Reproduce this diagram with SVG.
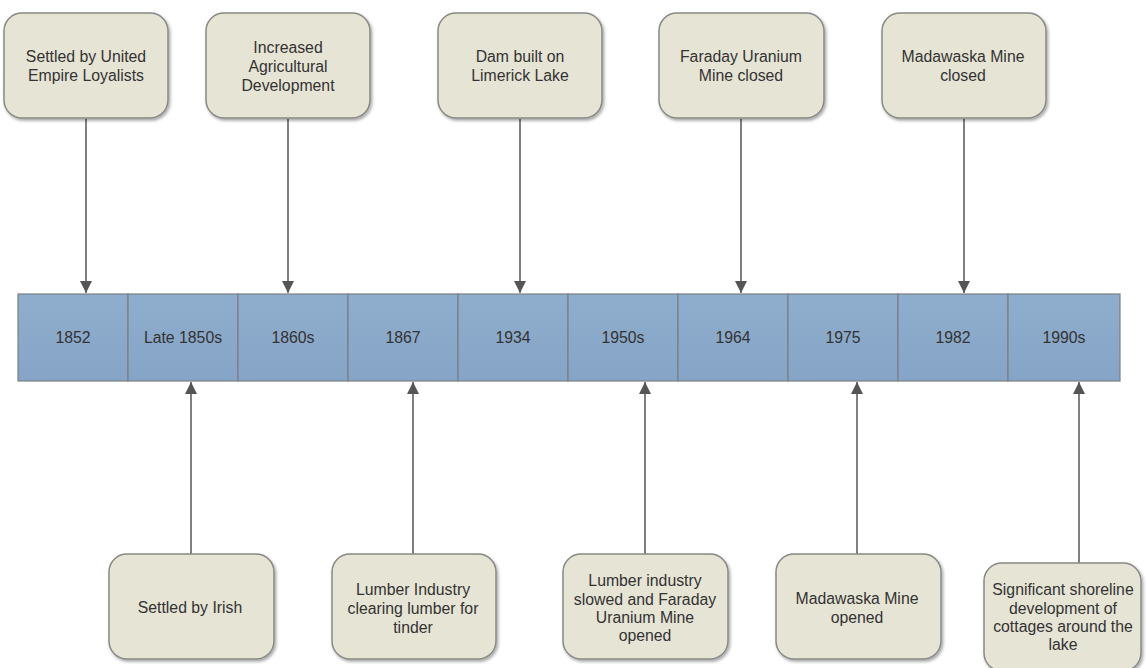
<svg xmlns="http://www.w3.org/2000/svg" width="1147" height="668" viewBox="0 0 1147 668">
<defs>
<filter id="sh" x="-10%" y="-10%" width="125%" height="125%">
<feDropShadow dx="1.5" dy="2" stdDeviation="1.5" flood-color="#000" flood-opacity="0.35"/>
</filter>
<linearGradient id="cg" x1="0" y1="0" x2="0" y2="1">
<stop offset="0" stop-color="#8fadcc"/>
<stop offset="1" stop-color="#86a4c6"/>
</linearGradient>
<marker id="ah" viewBox="0 0 12 12" refX="12" refY="6" markerWidth="12" markerHeight="12" markerUnits="userSpaceOnUse" orient="auto">
<path d="M0,0 L12,6 L0,12 Z" fill="#555"/>
</marker>
<style>
.box{fill:#e6e4d4;stroke:#888a84;stroke-width:1.5;filter:url(#sh)}
.cell{fill:url(#cg);stroke:#7a7f86;stroke-width:1.2}
.t{font-family:"Liberation Sans",Arial,sans-serif;font-size:15.8px;fill:#333;text-anchor:middle}
.c{stroke:#555;stroke-width:1.5;fill:none;marker-end:url(#ah)}
</style>
</defs>
<rect width="1147" height="668" fill="#fff"/>

<g id="timeline">
<rect class="cell" x="18" y="294" width="110" height="87"/>
<rect class="cell" x="128" y="294" width="110" height="87"/>
<rect class="cell" x="238" y="294" width="110" height="87"/>
<rect class="cell" x="348" y="294" width="110" height="87"/>
<rect class="cell" x="458" y="294" width="110" height="87"/>
<rect class="cell" x="568" y="294" width="110" height="87"/>
<rect class="cell" x="678" y="294" width="110" height="87"/>
<rect class="cell" x="788" y="294" width="110" height="87"/>
<rect class="cell" x="898" y="294" width="110" height="87"/>
<rect class="cell" x="1008" y="294" width="112" height="87"/>
<text class="t" x="73" y="343">1852</text>
<text class="t" x="183" y="343">Late 1850s</text>
<text class="t" x="293" y="343">1860s</text>
<text class="t" x="403" y="343">1867</text>
<text class="t" x="513" y="343">1934</text>
<text class="t" x="623" y="343">1950s</text>
<text class="t" x="733" y="343">1964</text>
<text class="t" x="843" y="343">1975</text>
<text class="t" x="953" y="343">1982</text>
<text class="t" x="1064" y="343">1990s</text>
</g>

<g id="connectors">
<line class="c" x1="86" y1="119" x2="86" y2="293"/>
<line class="c" x1="288" y1="119" x2="288" y2="293"/>
<line class="c" x1="520" y1="119" x2="520" y2="293"/>
<line class="c" x1="741" y1="119" x2="741" y2="293"/>
<line class="c" x1="964" y1="119" x2="964" y2="293"/>
<line class="c" x1="191" y1="554" x2="191" y2="382"/>
<line class="c" x1="413" y1="554" x2="413" y2="382"/>
<line class="c" x1="645" y1="554" x2="645" y2="382"/>
<line class="c" x1="857" y1="554" x2="857" y2="382"/>
<line class="c" x1="1079" y1="563" x2="1079" y2="382"/>
</g>

<g id="n1"><rect class="box" x="4" y="13" width="164" height="105" rx="18"/>
<text class="t" x="86" y="62">Settled by United</text><text class="t" x="86" y="81">Empire Loyalists</text></g>
<g id="n2"><rect class="box" x="206" y="13" width="164" height="105" rx="18"/>
<text class="t" x="288" y="53">Increased</text><text class="t" x="288" y="72">Agricultural</text><text class="t" x="288" y="91">Development</text></g>
<g id="n3"><rect class="box" x="438" y="13" width="164" height="105" rx="18"/>
<text class="t" x="520" y="62">Dam built on</text><text class="t" x="520" y="81">Limerick Lake</text></g>
<g id="n4"><rect class="box" x="659" y="13" width="165" height="105" rx="18"/>
<text class="t" x="741" y="62">Faraday Uranium</text><text class="t" x="741" y="81">Mine closed</text></g>
<g id="n5"><rect class="box" x="882" y="13" width="164" height="105" rx="18"/>
<text class="t" x="963" y="62">Madawaska Mine</text><text class="t" x="963" y="81">closed</text></g>

<g id="n6"><rect class="box" x="109" y="554" width="165" height="105" rx="18"/>
<text class="t" x="190" y="613">Settled by Irish</text></g>
<g id="n7"><rect class="box" x="332" y="554" width="164" height="105" rx="18"/>
<text class="t" x="413" y="595">Lumber Industry</text><text class="t" x="413" y="614">clearing lumber for</text><text class="t" x="413" y="633">tinder</text></g>
<g id="n8"><rect class="box" x="563" y="554" width="165" height="105" rx="18"/>
<text class="t" x="645" y="586">Lumber industry</text><text class="t" x="645" y="605">slowed and Faraday</text><text class="t" x="645" y="623">Uranium Mine</text><text class="t" x="645" y="641">opened</text></g>
<g id="n9"><rect class="box" x="776" y="554" width="165" height="105" rx="18"/>
<text class="t" x="857" y="604">Madawaska Mine</text><text class="t" x="857" y="623">opened</text></g>
<g id="n10"><rect class="box" x="984" y="563" width="157" height="108" rx="18"/>
<text class="t" x="1063" y="595">Significant shoreline</text><text class="t" x="1063" y="614">development of</text><text class="t" x="1063" y="632">cottages around the</text><text class="t" x="1063" y="650">lake</text></g>
</svg>
